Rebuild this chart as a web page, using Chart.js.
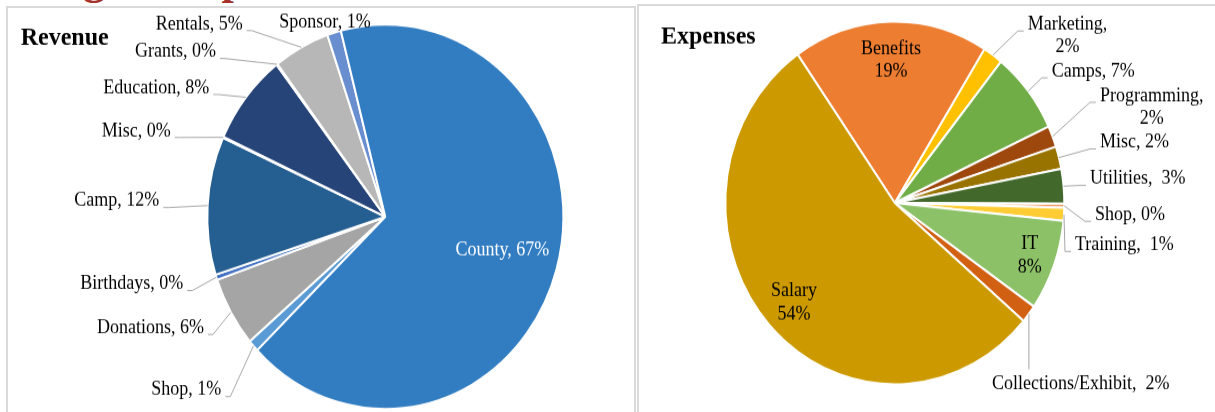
<!DOCTYPE html>
<html>
<head>
<meta charset="utf-8">
<title>Revenue and Expenses</title>
<script src="https://cdn.jsdelivr.net/npm/chart.js@4.4.1/dist/chart.umd.min.js"></script>
<style>
  html, body { margin: 0; padding: 0; background: #fff; }
  body { width: 1215px; height: 412px; position: relative; overflow: hidden; }
  .panel { position: absolute; border: 2px solid #dadada; background: #fff; box-sizing: border-box; }
  #revPanel { left: 6px; top: 6px; width: 630px; height: 440px; }
  #expPanel { left: 637px; top: 4px; width: 600px; height: 440px; }
  .stretch { position: absolute; transform-origin: 0 0; }
  #revWrap { left: 7px; top: 7px; transform: scaleY(1.08); }
  #expWrap { left: 638px; top: 5px; transform: scaleY(1.07); }
  #heading { position: absolute; left: 5px; top: -42px; font: bold 44px/44px "Liberation Serif", "Times New Roman", serif; color: #a5322b; white-space: nowrap; }
</style>
</head>
<body>
<div class="panel" id="revPanel"></div>
<div class="panel" id="expPanel"></div>
<div class="stretch" id="revWrap"><canvas id="revenueChart" width="629" height="380"></canvas></div>
<div class="stretch" id="expWrap"><canvas id="expensesChart" width="577" height="380"></canvas></div>
<div id="heading">Budget Snapshot</div>
<script>
// Revenue, in drawing order (clockwise from the Shop slice)
const revenueCategories = ['Shop', 'Donations', 'Birthdays', 'Camp', 'Misc', 'Education', 'Grants', 'Rentals', 'Sponsor', 'County'];
const revenueValues = [1.0, 5.9, 0.45, 11.6, 0.1, 7.7, 0.1, 5.1, 1.25, 66.8];
const revenueColors = ['#5b9bd5', '#a5a5a5', '#4472c4', '#255e91', '#636363', '#264478', '#7cafdd', '#b7b7b7', '#698ed0', '#327dc2'];

// Expenses, clockwise from Benefits
const expenseCategories = ['Benefits', 'Marketing', 'Camps', 'Programming', 'Misc', 'Utilities', 'Shop', 'Training', 'IT', 'Collections/Exhibit', 'Salary'];
const expenseValues = [18.6, 1.9, 7.3, 1.9, 2.0, 3.1, 0.35, 1.15, 8.1, 1.6, 54.0];
const expenseColors = ['#ed7d31', '#ffc000', '#70ad47', '#9e480e', '#997300', '#43682b', '#f1975a', '#ffcd33', '#8cc168', '#d26012', '#cc9a00'];

// label placement relative to the pie centre
const revenueLabelLayout = [
    { dx: -164, dy: 160.5, align: 'right', sep: ', ', leader: true },
    { dx: -181.3, dy: 103, align: 'right', sep: ', ', leader: true },
    { dx: -202, dy: 62.3, align: 'right', sep: ', ', leader: true },
    { dx: -226, dy: -14.5, align: 'right', sep: ', ', leader: true },
    { dx: -214.6, dy: -79.4, align: 'right', sep: ', ', leader: true },
    { dx: -176, dy: -119.2, align: 'right', sep: ', ', leader: true },
    { dx: -169.3, dy: -152.5, align: 'right', sep: ', ', leader: true },
    { dx: -142.6, dy: -178.4, align: 'right', sep: ', ', leader: true },
    { dx: -60.3, dy: -180.3, align: 'center', sep: ', ', leader: false },
    { dx: 117, dy: 30.8, align: 'center', sep: ', ', leader: false, color: '#ffffff' }
];

const expenseLabelLayout = [
    { dx: -3.8, dy: -133.4, align: 'center', sep: '\n', leader: false },
    { dx: 172.7, dy: -156, align: 'center', sep: ',\n', leader: true },
    { dx: 156.9, dy: -122.9, align: 'left', sep: ', ', leader: true },
    { dx: 256.9, dy: -89.3, align: 'center', sep: ',\n', leader: true },
    { dx: 205.2, dy: -56.5, align: 'left', sep: ', ', leader: true },
    { dx: 195.2, dy: -22.4, align: 'left', sep: ',  ', leader: true },
    { dx: 200.2, dy: 11.2, align: 'left', sep: ', ', leader: true },
    { dx: 180.2, dy: 39.3, align: 'left', sep: ',  ', leader: true },
    { dx: 134.9, dy: 49.5, align: 'center', sep: '\n', leader: false },
    { dx: 186, dy: 169.2, align: 'center', sep: ',  ', leader: true },
    { dx: -100.8, dy: 93.5, align: 'center', sep: '\n', leader: false }
];

const SERIF = '"Liberation Serif", "Times New Roman", serif';

function makeLabelPlugin(cfg) {
    return {
        id: 'pieLabels',
        afterDatasetsDraw(chart) {
            const ctx = chart.ctx;
            const meta = chart.getDatasetMeta(0);
            const values = chart.data.datasets[0].data;
            const total = values.reduce((a, b) => a + b, 0);
            ctx.save();

            ctx.font = 'bold 24px ' + SERIF;
            ctx.fillStyle = '#000';
            ctx.textAlign = 'left';
            ctx.textBaseline = 'alphabetic';
            ctx.fillText(cfg.title, cfg.titleX, cfg.titleY);

            ctx.font = '18px ' + SERIF;
            ctx.textBaseline = 'middle';
            meta.data.forEach(function (arc, i) {
                const lay = cfg.layout[i];
                const pct = Math.round(values[i] / total * 100);
                const lines = (chart.data.labels[i] + lay.sep + pct + '%').split('\n');
                const lx = arc.x + lay.dx;
                const ly = arc.y + lay.dy;
                const w = Math.max.apply(null, lines.map(t => ctx.measureText(t).width));
                const top = ly - lines.length * cfg.lineHeight / 2;
                const left = lay.align === 'right' ? lx - w : (lay.align === 'center' ? lx - w / 2 : lx);
                const right = left + w;

                if (lay.leader) {
                    const mid = (arc.startAngle + arc.endAngle) / 2;
                    const px = arc.x + Math.cos(mid) * arc.outerRadius;
                    const py = arc.y + Math.sin(mid) * arc.outerRadius;
                    const ay = top + cfg.lineHeight / 2 + 6;
                    ctx.beginPath();
                    if (right < px - 2) {
                        ctx.moveTo(right + 4, ay);
                        ctx.lineTo(right + 9, ay);
                        ctx.lineTo(px, py);
                    } else if (left > px + 2) {
                        ctx.moveTo(left - 4, ay);
                        ctx.lineTo(left - 10, ay);
                        ctx.lineTo(px, py);
                    } else {
                        ctx.moveTo(px, top - 3);
                        ctx.lineTo(px, py);
                    }
                    ctx.strokeStyle = '#a6a6a6';
                    ctx.lineWidth = 1;
                    ctx.stroke();
                }

                ctx.fillStyle = lay.color || '#000';
                ctx.textAlign = lay.align;
                lines.forEach(function (t, k) {
                    ctx.fillText(t, lx, top + cfg.lineHeight * (k + 0.5));
                });
            });
            ctx.restore();
        }
    };
}

function pieConfig(labels, values, colors, opts) {
    return {
        type: 'pie',
        data: {
            labels: labels,
            datasets: [{
                data: values,
                backgroundColor: colors,
                borderColor: '#ffffff',
                borderWidth: 2,
                hoverBorderWidth: 2,
                hoverOffset: 0
            }]
        },
        options: {
            responsive: false,
            animation: false,
            events: [],
            rotation: opts.rotation,
            radius: opts.radius,
            layout: { padding: opts.padding },
            plugins: {
                legend: { display: false },
                tooltip: { enabled: false }
            }
        },
        plugins: [makeLabelPlugin(opts.labels)]
    };
}

new Chart(document.getElementById('revenueChart').getContext('2d'), pieConfig(
    revenueCategories, revenueValues, revenueColors, {
        rotation: 226,
        radius: 178,
        padding: { left: 127.6, right: 0, top: 8.4, bottom: 0 },
        labels: { title: 'Revenue', titleX: 13.7, titleY: 34.5, layout: revenueLabelLayout, lineHeight: 21.5 }
    }));

new Chart(document.getElementById('expensesChart').getContext('2d'), pieConfig(
    expenseCategories, expenseValues, expenseColors, {
        rotation: -35,
        radius: 169.5,
        padding: { left: 0, right: 63.4, top: 0, bottom: 10 },
        labels: { title: 'Expenses', titleX: 23, titleY: 36.4, layout: expenseLabelLayout, lineHeight: 21.5 }
    }));
</script>
</body>
</html>
